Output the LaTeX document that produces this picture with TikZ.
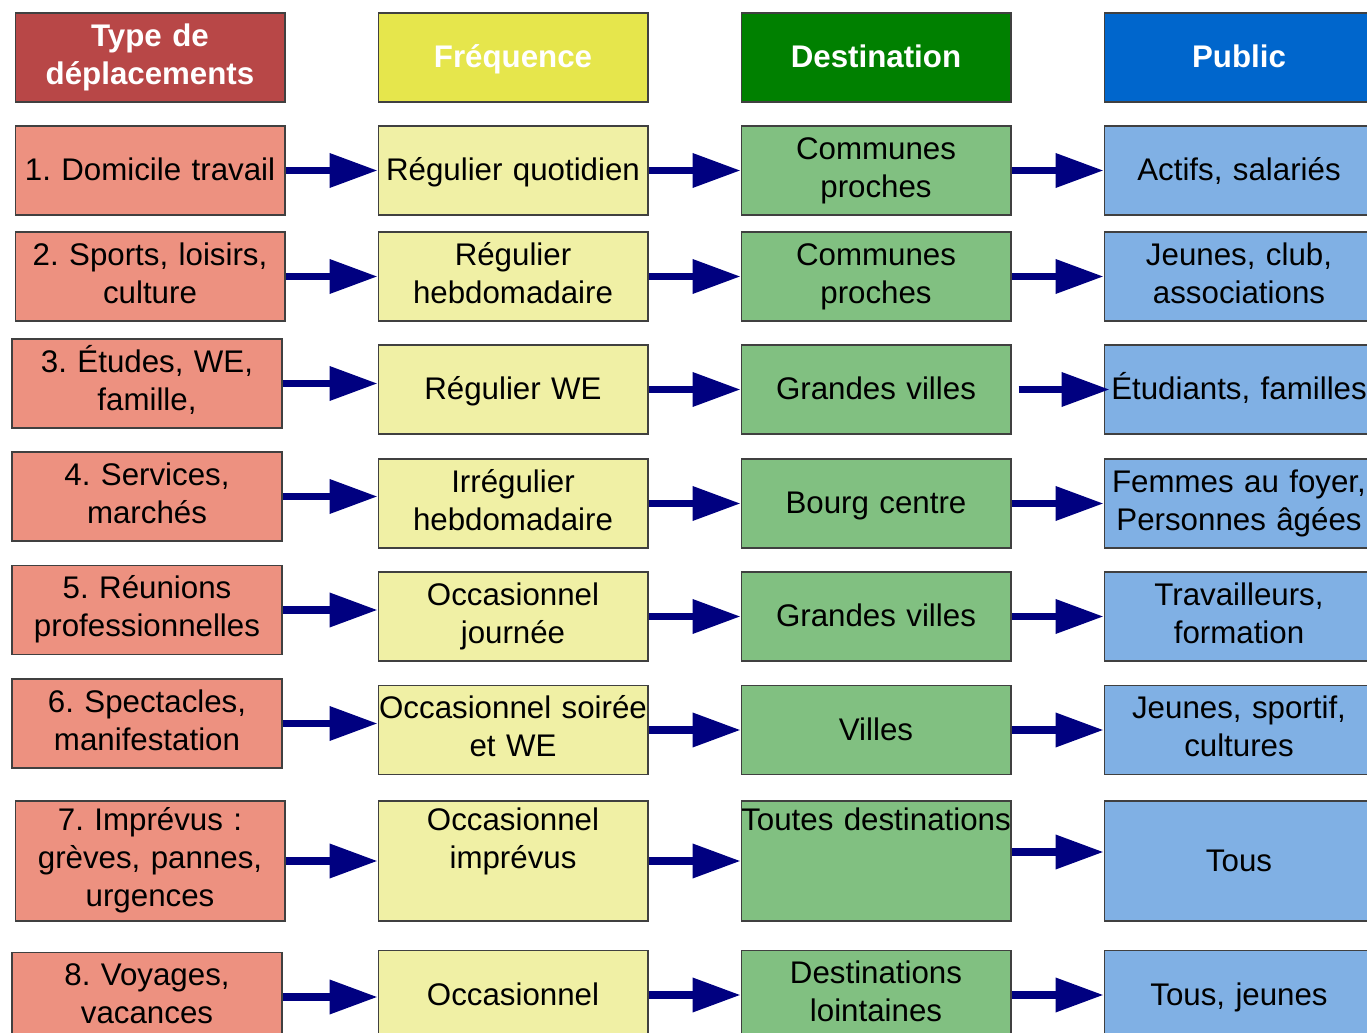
\documentclass[tikz,border=0pt]{standalone}
\usepackage{fontspec}
\setmainfont{Liberation Sans}
\usepackage{xcolor}
\usepackage{tikz}
\usetikzlibrary{arrows.meta,positioning}
\frenchspacing

\definecolor{typehead}{RGB}{184,71,71}
\definecolor{freqhead}{RGB}{230,230,76}
\definecolor{desthead}{RGB}{0,128,0}
\definecolor{pubhead}{RGB}{0,102,204}
\definecolor{typefill}{RGB}{237,145,128}
\definecolor{freqfill}{RGB}{240,240,165}
\definecolor{destfill}{RGB}{129,192,129}
\definecolor{pubfill}{RGB}{128,176,228}
\definecolor{arrowblue}{RGB}{0,0,128}

% strut for one-line cells (sits a bit lower)
\newcommand{\lowstrut}{\rule[-3.6pt]{0pt}{21.6pt}}

\begin{document}
\begin{tikzpicture}[x=0.02cm, y=-0.02cm]
        % Define styles
        \tikzset{
            cell/.style={rectangle, draw=black!75, line width=0.6pt, text width=5.4cm, minimum width=5.4cm, inner sep=0pt, minimum height=1.78cm, align=center, font=\fontsize{17.8pt}{21.6pt}\selectfont, execute at begin node=\strut, execute at end node=\strut},
            oneline/.style={execute at begin node=\lowstrut, execute at end node=\lowstrut},
            head/.style={cell, text=white, font=\fontsize{17.8pt}{21.6pt}\selectfont\bfseries},
            typebox/.style={cell, fill=typefill},
            freqbox/.style={cell, fill=freqfill},
            destbox/.style={cell, fill=destfill},
            pubbox/.style={cell, fill=pubfill},
            arrow/.style={line width=4pt, draw=arrowblue, -{Triangle[length=0.96cm, width=0.66cm]}}
        }
        \useasboundingbox (0,0) rectangle (1367,1033);

        % Headers
        \node [head, fill=typehead] (htype) at (150,57.5) {Type de\\déplacements};
        \node [head, oneline, fill=freqhead] (hfreq) at (513,57.5) {Fréquence};
        \node [head, oneline, fill=desthead] (hdest) at (876,57.5) {Destination};
        \node [head, oneline, fill=pubhead] (hpub) at (1239,57.5) {Public};

        % Type de deplacements
        \node [typebox, oneline] (type1) at (150,170.5) {1. Domicile travail};
        \node [typebox] (type2) at (150,276.5) {2. Sports, loisirs,\\culture};
        \node [typebox] (type3) at (147,383.5) {3. Études, WE,\\famille,};
        \node [typebox] (type4) at (147,496.5) {4. Services,\\marchés};
        \node [typebox] (type5) at (147,610) {5. Réunions\\professionnelles};
        \node [typebox] (type6) at (147,723.5) {6. Spectacles,\\manifestation};
        \node [typebox, minimum height=2.4cm] (type7) at (150,861) {7. Imprévus :\\grèves, pannes,\\urgences};
        \node [typebox] (type8) at (147,997) {8. Voyages,\\vacances};

        % Frequence
        \node [freqbox, oneline] (freq1) at (513,170.5) {Régulier quotidien};
        \node [freqbox] (freq2) at (513,276.5) {Régulier\\hebdomadaire};
        \node [freqbox, oneline] (freq3) at (513,389.5) {Régulier WE};
        \node [freqbox] (freq4) at (513,503.5) {Irrégulier\\hebdomadaire};
        \node [freqbox] (freq5) at (513,616.5) {Occasionnel\\journée};
        \node [freqbox] (freq6) at (513,730) {Occasionnel soirée\\et WE};
        \node [freqbox, minimum height=2.4cm] (freq7) at (513,861) {Occasionnel\\imprévus\\~};
        \node [freqbox, oneline] (freq8) at (513,995) {Occasionnel};

        % Destination
        \node [destbox] (dest1) at (876,170.5) {Communes\\proches};
        \node [destbox] (dest2) at (876,276.5) {Communes\\proches};
        \node [destbox, oneline] (dest3) at (876,389.5) {Grandes villes};
        \node [destbox, oneline] (dest4) at (876,503.5) {Bourg centre};
        \node [destbox, oneline] (dest5) at (876,616.5) {Grandes villes};
        \node [destbox, oneline] (dest6) at (876,730) {Villes};
        \node [destbox, minimum height=2.4cm] (dest7) at (876,861) {Toutes destinations\\~\\~};
        \node [destbox] (dest8) at (876,995) {Destinations\\lointaines};

        % Public
        \node [pubbox, oneline] (pub1) at (1239,170.5) {Actifs, salariés};
        \node [pubbox] (pub2) at (1239,276.5) {Jeunes, club,\\associations};
        \node [pubbox, oneline] (pub3) at (1239,389.5) {Étudiants, familles};
        \node [pubbox] (pub4) at (1239,503.5) {Femmes au foyer,\\Personnes âgées};
        \node [pubbox] (pub5) at (1239,616.5) {Travailleurs,\\formation};
        \node [pubbox] (pub6) at (1239,730) {Jeunes, sportif,\\cultures};
        \node [pubbox, oneline, minimum height=2.4cm] (pub7) at (1239,861) {Tous};
        \node [pubbox, oneline] (pub8) at (1239,995) {Tous, jeunes};

        % Create arrows
        \foreach \i in {1,...,8} {
            \draw [arrow] (type\i.east) -- (type\i.east -| freq\i.west);
            \draw [arrow] (freq\i.east) -- (freq\i.east -| dest\i.west);
        }
        \foreach \i in {1,2,4,5,6,8} {
            \draw [arrow] (dest\i.east) -- (dest\i.east -| pub\i.west);
        }
        \draw [arrow, shorten <=0.14cm, shorten >=-0.12cm] (dest3.east) -- (dest3.east -| pub3.west);
        \draw [arrow] ([yshift=0.18cm]dest7.east) -- ([yshift=0.18cm]dest7.east -| pub7.west);
    \end{tikzpicture}
\end{document}
